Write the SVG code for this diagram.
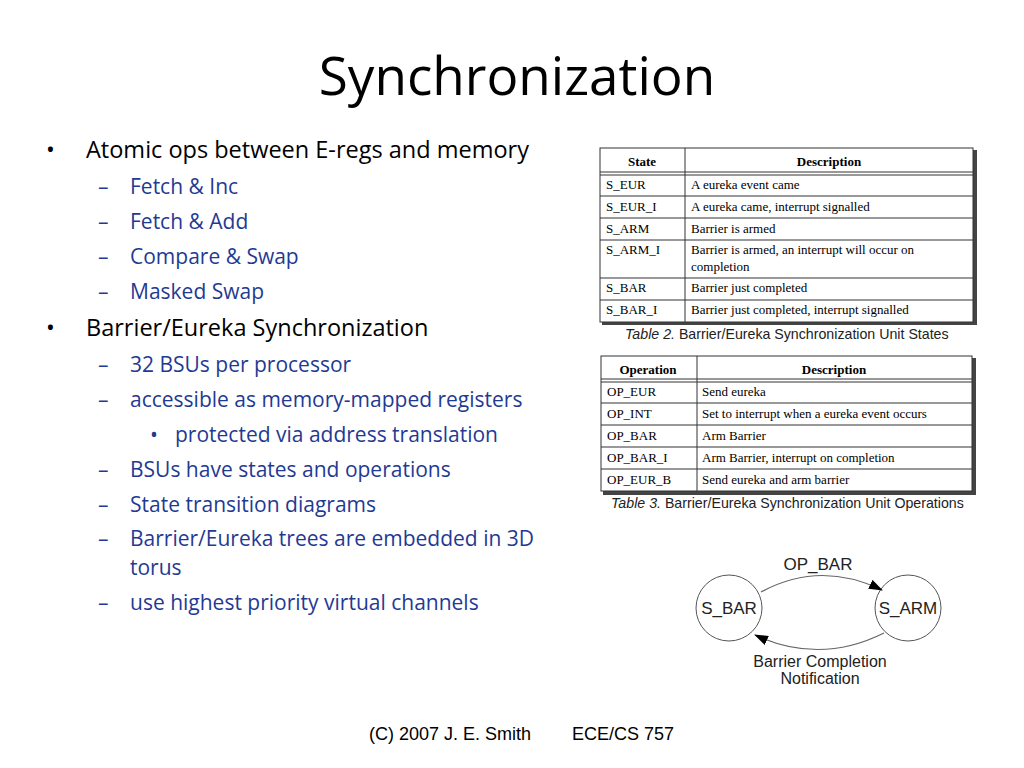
<svg xmlns="http://www.w3.org/2000/svg" width="1024" height="768" viewBox="0 0 1024 768">
<style>
.t{font-family:"Open Sans","Noto Sans",sans-serif}
.b{font-size:23.5px;fill:#000}
.s{font-size:21px;fill:#1f3a93}
.tb{font-family:"Liberation Serif",serif;font-size:13px;fill:#000}
.th{font-family:"Liberation Serif",serif;font-size:13px;font-weight:bold;fill:#000}
.cap{font-family:"Liberation Sans",sans-serif;font-size:14.2px;fill:#222}
.ln{stroke:#333;stroke-width:1;fill:none}
.sh{fill:#444}
.st{font-family:"Liberation Sans",sans-serif;font-size:17px;fill:#222}
.st2{font-family:"Liberation Sans",sans-serif;font-size:16px;fill:#222}
</style>
<defs><marker id="ah" markerWidth="14" markerHeight="10" refX="13" refY="5" orient="auto" markerUnits="userSpaceOnUse"><path d="M0,0 L14,5 L0,10 Z" fill="#000"/></marker></defs>
<rect width="1024" height="768" fill="#fff"/>
<text x="517" y="95" font-size="53" text-anchor="middle" font-family="Open Sans,sans-serif">Synchronization</text>
<g class="t">
<text class="b" x="46" y="158">•</text><text class="b" x="86" y="158">Atomic ops between E-regs and memory</text>
<text class="s" x="98" y="194">–</text><text class="s" x="130" y="194">Fetch &amp; Inc</text>
<text class="s" x="98" y="229">–</text><text class="s" x="130" y="229">Fetch &amp; Add</text>
<text class="s" x="98" y="264">–</text><text class="s" x="130" y="264">Compare &amp; Swap</text>
<text class="s" x="98" y="299">–</text><text class="s" x="130" y="299">Masked Swap</text>
<text class="b" x="46" y="336">•</text><text class="b" x="86" y="336">Barrier/Eureka Synchronization</text>
<text class="s" x="98" y="372">–</text><text class="s" x="130" y="372">32 BSUs per processor</text>
<text class="s" x="98" y="407">–</text><text class="s" x="130" y="407">accessible as memory-mapped registers</text>
<text class="s" x="150" y="442">•</text><text class="s" x="175" y="442">protected via address translation</text>
<text class="s" x="98" y="477">–</text><text class="s" x="130" y="477">BSUs have states and operations</text>
<text class="s" x="98" y="512">–</text><text class="s" x="130" y="512">State transition diagrams</text>
<text class="s" x="98" y="546">–</text><text class="s" x="130" y="546">Barrier/Eureka trees are embedded in 3D</text>
<text class="s" x="130" y="575">torus</text>
<text class="s" x="98" y="610">–</text><text class="s" x="130" y="610">use highest priority virtual channels</text>
</g>
<g id="table2">
<rect class="sh" x="973" y="150" width="4" height="175"/><rect class="sh" x="602" y="322" width="375" height="3"/>
<rect class="ln" x="600" y="148" width="373" height="174"/>
<line class="ln" x1="685" y1="148" x2="685" y2="322"/>
<line class="ln" x1="600" y1="172" x2="973" y2="172"/><line class="ln" x1="600" y1="175" x2="973" y2="175"/>
<line class="ln" x1="600" y1="196" x2="973" y2="196"/><line class="ln" x1="600" y1="218" x2="973" y2="218"/>
<line class="ln" x1="600" y1="240" x2="973" y2="240"/><line class="ln" x1="600" y1="278" x2="973" y2="278"/>
<line class="ln" x1="600" y1="300" x2="973" y2="300"/>
<text class="th" x="642" y="166" text-anchor="middle">State</text><text class="th" x="829" y="166" text-anchor="middle">Description</text>
<text class="tb" x="606" y="189">S_EUR</text><text class="tb" x="691" y="189">A eureka event came</text>
<text class="tb" x="606" y="211">S_EUR_I</text><text class="tb" x="691" y="211">A eureka came, interrupt signalled</text>
<text class="tb" x="606" y="233">S_ARM</text><text class="tb" x="691" y="233">Barrier is armed</text>
<text class="tb" x="606" y="254">S_ARM_I</text><text class="tb" x="691" y="254">Barrier is armed, an interrupt will occur on</text><text class="tb" x="691" y="271">completion</text>
<text class="tb" x="606" y="292">S_BAR</text><text class="tb" x="691" y="292">Barrier just completed</text>
<text class="tb" x="606" y="314">S_BAR_I</text><text class="tb" x="691" y="314">Barrier just completed, interrupt signalled</text>
<text class="cap" x="625" y="339"><tspan font-style="italic">Table 2.</tspan>  Barrier/Eureka Synchronization Unit States</text>
</g>
<g id="table3">
<rect class="sh" x="972" y="358" width="4" height="137"/><rect class="sh" x="603" y="491" width="373" height="4"/>
<rect class="ln" x="601" y="356" width="371" height="135"/>
<line class="ln" x1="697" y1="356" x2="697" y2="491"/>
<line class="ln" x1="601" y1="379" x2="972" y2="379"/><line class="ln" x1="601" y1="382" x2="972" y2="382"/>
<line class="ln" x1="601" y1="403" x2="972" y2="403"/><line class="ln" x1="601" y1="425" x2="972" y2="425"/>
<line class="ln" x1="601" y1="447" x2="972" y2="447"/><line class="ln" x1="601" y1="469" x2="972" y2="469"/>
<text class="th" x="648" y="374" text-anchor="middle">Operation</text><text class="th" x="834" y="374" text-anchor="middle">Description</text>
<text class="tb" x="607" y="396">OP_EUR</text><text class="tb" x="702" y="396">Send eureka</text>
<text class="tb" x="607" y="418">OP_INT</text><text class="tb" x="702" y="418">Set to interrupt when a eureka event occurs</text>
<text class="tb" x="607" y="440">OP_BAR</text><text class="tb" x="702" y="440">Arm Barrier</text>
<text class="tb" x="607" y="462">OP_BAR_I</text><text class="tb" x="702" y="462">Arm Barrier, interrupt on completion</text>
<text class="tb" x="607" y="484">OP_EUR_B</text><text class="tb" x="702" y="484">Send eureka and arm barrier</text>
<text class="cap" x="611" y="508"><tspan font-style="italic">Table 3.</tspan>  Barrier/Eureka Synchronization Unit Operations</text>
</g>
<g id="s_bar"><circle cx="729" cy="608" r="33" fill="#fff" stroke="#555"/><text class="st" x="729" y="614" text-anchor="middle">S_BAR</text></g>
<g id="s_arm"><circle cx="908" cy="608" r="33" fill="#fff" stroke="#555"/><text class="st" x="908" y="614" text-anchor="middle">S_ARM</text></g>
<g id="connectors">
<path d="M761,592 Q820,560 882,590" fill="none" stroke="#666" stroke-width="1.2" marker-end="url(#ah)"/>
<path d="M884,633 Q820,665 755,635" fill="none" stroke="#666" stroke-width="1.2" marker-end="url(#ah)"/>
</g>
<text class="st" x="818" y="570" text-anchor="middle">OP_BAR</text>
<text class="st2" x="820" y="667" text-anchor="middle">Barrier Completion</text>
<text class="st2" x="820" y="684" text-anchor="middle">Notification</text>
<text x="450" y="740" font-family="Liberation Sans,sans-serif" font-size="18" text-anchor="middle">(C) 2007 J. E. Smith</text>
<text x="623" y="740" font-family="Liberation Sans,sans-serif" font-size="18" text-anchor="middle">ECE/CS 757</text>
</svg>
